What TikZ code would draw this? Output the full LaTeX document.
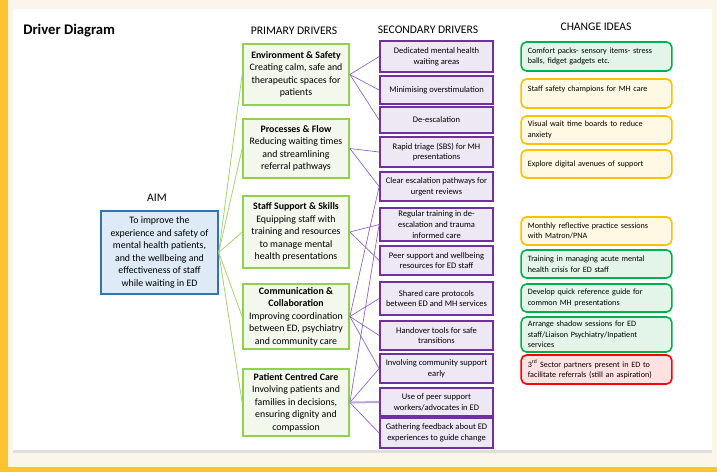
\documentclass[tikz,border=0pt]{standalone}
\usepackage{fontspec}
\setmainfont{Carlito}
\definecolor{pageCream}{HTML}{FCF5EA}
\definecolor{pageYellow}{HTML}{FBC232}
\definecolor{panelShadow}{HTML}{DEDEDE}
\definecolor{aimBlue}{HTML}{2E75B6}
\definecolor{aimFill}{HTML}{DEEBF7}
\definecolor{primGreen}{HTML}{92D050}
\definecolor{primFill}{HTML}{F2F8EC}
\definecolor{secPurple}{HTML}{7030A0}
\definecolor{secFill}{HTML}{EEE8F5}
\definecolor{linkPurple}{HTML}{9062C4}
\definecolor{linkLilac}{HTML}{BCA6DC}
\definecolor{linkGreen}{HTML}{A6D472}
\definecolor{ideaGreen}{HTML}{00B050}
\definecolor{ideaGreenFill}{HTML}{E3F4E8}
\definecolor{ideaAmber}{HTML}{FFC000}
\definecolor{ideaAmberFill}{HTML}{FFF8E3}
\definecolor{ideaRed}{HTML}{FF0000}
\definecolor{ideaRedFill}{HTML}{FFE1E3}
\begin{document}
\begin{tikzpicture}
[x=0.75pt, y=-0.75pt,
  heading/.style={anchor=base, inner sep=0pt, font=\fontsize{8.7}{10}\selectfont},
  aimBox/.style={draw=aimBlue, fill=aimFill, line width=1.1pt, align=center,
    inner sep=0pt, minimum width=117*0.75pt, minimum height=83*0.75pt,
    font=\fontsize{7.4}{9.4}\selectfont},
  primaryBox/.style={draw=primGreen, fill=primFill, line width=1.3pt, align=center,
    inner sep=0pt, minimum width=106*0.75pt, font=\fontsize{7.4}{9.4}\selectfont},
  secondaryBox/.style={draw=secPurple, fill=secFill, line width=1.3pt, align=center,
    inner sep=0pt, minimum width=113*0.75pt, font=\fontsize{6.4}{8}\selectfont},
  ideaBox/.style={rounded corners=4pt, line width=1.2pt, align=left,
    inner xsep=5pt, inner ysep=0pt, text width=103pt, minimum height=#1*0.75pt,
    font=\fontsize{6.1}{7.8}\selectfont},
  aimLink/.style={-, draw=linkGreen, line width=0.6pt},
  driverLink/.style={-, draw=linkPurple, line width=0.5pt}]
%% page and panel
\fill[pageCream] (0,0) rectangle (717,472);
\fill[pageYellow] (0,0) rectangle (8,472);
\fill[pageYellow] (0,467) rectangle (717,472);
\fill[white] (13,9) rectangle (712,450);
\fill[panelShadow] (13,450) rectangle (712,453);
\useasboundingbox (0,0) rectangle (717,472);
%% titles
\node (title) at (23,34) [anchor=base west, inner sep=0pt, font=\fontsize{11}{13}\selectfont\bfseries] {Driver Diagram};
\node (headAim) at (157,201) [heading] {AIM};
\node (headPrim) at (294,34.5) [heading] {PRIMARY DRIVERS};
\node (headSec) at (428,33.5) [heading] {SECONDARY DRIVERS};
\node (headIdea) at (596,30) [heading] {CHANGE IDEAS};
%% aim
\node (aim) at (159.5,252.5) [aimBox] {To improve the\\experience and safety of\\mental health patients,\\and the wellbeing and\\effectiveness of staff\\while waiting in ED};
%% primary drivers
\foreach \nodename/\y/\h/\txt in {
  p1/74.5/61/{\textbf{Environment \& Safety}\\Creating calm, safe and\\therapeutic spaces for\\patients},
  p2/148.5/59/{\textbf{Processes \& Flow}\\Reducing waiting times\\and streamlining\\referral pathways},
  p3/232/72/{\textbf{Staff Support \& Skills}\\Equipping staff with\\training and resources\\to manage mental\\health presentations},
  p4/316.5/65/{\textbf{Communication \&}\\\textbf{Collaboration}\\Improving coordination\\between ED, psychiatry\\and community care},
  p5/402.5/67/{\textbf{Patient Centred Care}\\Involving patients and\\families in decisions,\\ensuring dignity and\\compassion}}
{
  \node (\nodename) at (296,\y) [primaryBox, minimum height=\h*0.75pt] {\txt};
}
%% secondary drivers
\foreach \nodename/\y/\h/\txt in {
  s1/56.5/31/{Dedicated mental health\\waiting areas},
  s2/90/28/{Minimising overstimulation},
  s3/120/26/{De-escalation},
  s4/152/30/{Rapid triage (SBS) for MH\\presentations},
  s5/186.5/29/{Clear escalation pathways for\\urgent reviews},
  s6/224.5/33/{Regular training in de-\\escalation and trauma\\informed care},
  s7/260.5/29/{Peer support and wellbeing\\resources for ED staff},
  s8/298.5/33/{Shared care protocols\\between ED and MH services},
  s9/335.5/29/{Handover tools for safe\\transitions},
  s10/368.5/29/{Involving community support\\early},
  s11/402/28/{Use of peer support\\workers/advocates in ED},
  s12/433/30/{Gathering feedback about ED\\experiences to guide change}}
{
  \node (\nodename) at (436.5,\y) [secondaryBox, minimum height=\h*0.75pt] {\txt};
}
%% change ideas
\foreach \nodename/\y/\h/\brd/\fil/\txt in {
  c1/56.5/29/ideaGreen/ideaGreenFill/{Comfort packs- sensory items- stress\\balls, fidget gadgets etc.},
  c2/93.5/29/ideaAmber/ideaAmberFill/{Staff safety champions for MH care\\\mbox{}},
  c3/130/28/ideaAmber/ideaAmberFill/{Visual wait time boards to reduce\\anxiety},
  c4/164/28/ideaAmber/ideaAmberFill/{Explore digital avenues of support},
  c5/231/28/ideaAmber/ideaAmberFill/{Monthly reflective practice sessions\\with Matron/PNA},
  c6/264/28/ideaGreen/ideaGreenFill/{Training in managing acute mental\\health crisis for ED staff},
  c7/298/28/ideaGreen/ideaGreenFill/{Develop quick reference guide for\\common MH presentations},
  c8/334.5/35/ideaGreen/ideaGreenFill/{Arrange shadow sessions for ED\\staff/Liaison Psychiatry/Inpatient\\services},
  c9/369.5/29/ideaRed/ideaRedFill/{3\textsuperscript{rd} Sector partners present in ED to\\facilitate referrals (still an aspiration)}}
{
  \node (\nodename) at (596.5,\y) [ideaBox=\h, draw=\brd, fill=\fil] {\txt};
}
%% aim to primary
\path
\foreach \endnode in {p1, p2, p3, p4, p5}
{
  (aim.east) edge[aimLink] (\endnode.west)
};
%% primary to secondary
\path
\foreach \startnode/\endnode in {
  p1/s1, p1/s2, p1/s3, p2/s4, p2/s5, p3/s6, p3/s7, p4/s5,
  p4/s8, p4/s9, p4/s10, p5/s6, p5/s10, p5/s12}
{
  (\startnode.east) edge[driverLink] (\endnode.west)
};
\draw[draw=linkLilac, line width=1.5pt] (p5.east) -- (s11.west);
\end{tikzpicture}
\end{document}
